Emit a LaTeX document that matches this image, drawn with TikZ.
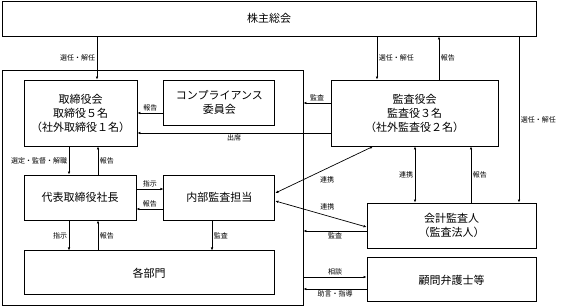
\documentclass[tikz,border=0pt]{standalone}
\usepackage{fontspec}
\setmainfont{Noto Sans CJK JP}
\usetikzlibrary{arrows.meta,positioning}

\begin{document}
\begin{tikzpicture}[
    x=1pt, y=-1pt,
    node distance=27pt,
    orgbox/.style={draw, line width=0.9pt, align=center, inner sep=0pt, font=\fontsize{11}{14}\selectfont},
    arrow/.style={-{Latex[length=3pt,width=2.6pt]}, line width=0.7pt},
    twoway/.style={{Latex[length=3pt,width=2.6pt]}-{Latex[length=3pt,width=2.6pt]}, line width=0.7pt},
    lbl/.style={font=\fontsize{7}{8}\selectfont, inner sep=1.5pt}
  ]
    \useasboundingbox (0,0) rectangle (561,306);
    % boxes
    \node[orgbox, minimum width=534pt, minimum height=35pt] (kabunushi) at (269,18.5) {株主総会};
    \node[draw, line width=0.9pt, minimum width=301pt, minimum height=235pt] (company) at (152.5,187.5) {};
    \node[orgbox, minimum width=113pt, minimum height=66pt] (torishimari) at (80.5,113) {取締役会\\取締役５名\\（社外取締役１名）};
    \node[orgbox, minimum width=111pt, minimum height=45pt, right=26pt of torishimari.north east, anchor=north west] (compliance) {コンプライアンス\\委員会};
    \node[orgbox, minimum width=167pt, minimum height=66pt] (kansayaku) at (414.5,113) {監査役会\\監査役３名\\（社外監査役２名）};
    \node[orgbox, minimum width=112pt, minimum height=45pt] (shacho) at (80,197.5) {代表取締役社長};
    \node[orgbox, minimum width=111pt, minimum height=45pt, right=of shacho] (naibu) {内部監査担当};
    \node[orgbox, minimum width=250pt, minimum height=44pt, below=30pt of shacho.south west, anchor=north west] (kakubumon) {各部門};
    \node[orgbox, minimum width=169pt, minimum height=45pt] (kaikei) at (451.5,225.5) {会計監査人\\（監査法人）};
    \node[orgbox, minimum width=169pt, minimum height=44pt, below=9pt of kaikei] (komon) {顧問弁護士等};
    % shareholders
    \draw[arrow] (kabunushi.south -| 97,0) -- node[lbl, left] {選任・解任} (torishimari.north -| 97,0);
    \draw[arrow] (kabunushi.south -| 377,0) -- node[lbl, right] {選任・解任} (kansayaku.north -| 377,0);
    \draw[arrow] (kansayaku.north -| 439,0) -- node[lbl, right] {報告} (kabunushi.south -| 439,0);
    \draw[arrow] (kabunushi.south -| 519,0) -- node[lbl, right] {選任・解任} (kaikei.north -| 519,0);
    % board
    \draw[arrow] (compliance.west |- 0,113) -- node[lbl, above] {報告} (torishimari.east |- 0,113);
    \draw[arrow] (kansayaku.west |- 0,103) -- node[lbl, above] {監査} (company.east |- 0,103);
    \draw[arrow] (kansayaku.west |- 0,133) -- node[lbl, below] {出席} (torishimari.east |- 0,133);
    \draw[arrow] (torishimari.south -| 69,0) -- node[lbl, left] {選定・監督・解職} (shacho.north -| 69,0);
    \draw[arrow] (shacho.north -| 98,0) -- node[lbl, right] {報告} (torishimari.south -| 98,0);
    \draw[arrow] (shacho.east |- 0,189) -- node[lbl, above] {指示} (naibu.west |- 0,189);
    \draw[arrow] (naibu.west |- 0,209) -- node[lbl, above] {報告} (shacho.east |- 0,209);
    \draw[arrow] (shacho.south -| 69,0) -- node[lbl, left] {指示} (kakubumon.north -| 69,0);
    \draw[arrow] (kakubumon.north -| 98,0) -- node[lbl, right] {報告} (shacho.south -| 98,0);
    \draw[arrow] (naibu.south -| 212,0) -- node[lbl, right] {監査} (kakubumon.north -| 212,0);
    % auditors
    \draw[twoway] ([yshift=4.5pt]naibu.east) -- node[lbl, pos=0.53, below=6pt] {連携} (kansayaku.south -| 373,0);
    \draw[twoway] ([yshift=-3.5pt]naibu.east) -- node[lbl, pos=0.57, above=4pt] {連携} (kaikei.west |- 0,227);
    \draw[twoway] (kansayaku.south -| 415,0) -- node[lbl, left] {連携} (kaikei.north -| 415,0);
    \draw[arrow] (kaikei.north -| 471,0) -- node[lbl, right] {報告} (kansayaku.south -| 471,0);
    \draw[arrow] (kaikei.west |- 0,231) -- node[lbl, below] {監査} (company.east |- 0,231);
    % lawyers
    \draw[arrow] (company.east |- 0,277) -- node[lbl, above] {相談} (komon.west |- 0,277);
    \draw[arrow] (komon.west |- 0,289) -- node[lbl, below] {助言・指導} (company.east |- 0,289);
  \end{tikzpicture}
\end{document}
